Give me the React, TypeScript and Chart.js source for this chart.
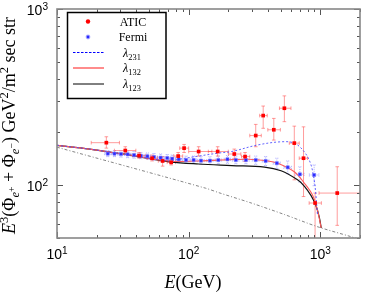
import { useEffect, useRef } from 'react';
import { Chart, registerables } from 'chart.js';
Chart.register(...registerables);

// ---------- data (GeV, E^3 flux) ----------
const ATIC_E = [23.7, 33, 42, 52.7, 63.4, 73.6, 83.2, 92.3, 119, 166, 222, 268, 323, 368, 443, 533, 634, 745, 912, 1343];
const ATIC_V = [174, 157, 147, 142, 137, 134.6, 146, 162, 155, 155, 150, 145, 191, 248, 206, 273, 173, 142, 79, 90];
const ATIC_E_LO = [18.2, 27.3, 37.5, 48.6, 58.8, 68.7, 77.1, 85.5, 100, 141, 200, 252, 291, 346, 399, 489, 581, 691, 822, 977];
const ATIC_E_HI = [29.8, 39.7, 47.2, 57.8, 68.7, 79.4, 90.1, 100, 150, 200, 249, 291, 356, 395, 497, 598, 691, 798, 1018, 2010];
const ATIC_V_LO = [162, 150, 142, 137, 128, 130, 140, 153, 146, 146, 141, 136, 165, 210, 180, 229, 107, 86, 40, 59];
const ATIC_V_HI = [188, 165, 153, 148, 145, 140, 153, 170, 165, 165, 160, 153, 221, 281, 239, 321, 216, 214, 90, 127];

const FERMI_E = [24.3, 27.3, 30.6, 34.4, 38.5, 43.3, 48.6, 54.5, 61.2, 68.7, 75, 84, 95.5, 109, 124, 145, 168, 197, 228, 272, 323, 384, 467, 565, 699, 897];
const FERMI_V = [150.7, 150.7, 150, 149.4, 148, 146.8, 145.6, 144.3, 143, 142.4, 141.2, 140, 138.7, 138.7, 137.5, 137.5, 138.6, 140, 138.6, 138.6, 138.6, 137, 133, 126, 115, 114];
const FERMI_E_LO = [23, 25.8, 29, 32.5, 36.4, 41, 46, 51.5, 58, 65, 71, 79.5, 90, 103, 117, 137, 159, 186, 215, 257, 304, 362, 438, 528, 650, 825];
const FERMI_E_HI = [25.7, 28.9, 32.4, 36.4, 40.8, 45.8, 51.4, 57.7, 64.8, 72.7, 79.4, 89, 101, 115, 131, 153, 178, 208, 241, 288, 342, 407, 497, 604, 752, 975];
const FERMI_V_LO = [145, 145, 144, 143, 142, 141, 140, 138, 137, 136, 135, 134, 133, 133, 131, 131, 132, 133, 132, 132, 131, 129, 124, 116, 104, 99];
const FERMI_V_HI = [157, 157, 156, 156, 155, 153, 152, 151, 150, 149, 148, 147, 146, 146, 145, 145, 146, 147, 146, 146, 146, 145, 142, 137, 127, 130];

const L231_E = [10, 17.7, 35.4, 72.4, 84, 119, 170, 212, 336, 503, 634, 752, 841, 897, 922, 950];
const L231_V = [168, 160, 148, 137, 140, 146, 152, 155, 169, 176, 173, 155, 133, 107, 90, 68];
const L132_E = [10, 17.7, 35.4, 72.4, 119, 283, 400, 475, 634, 752, 870, 950, 1015];
const L132_V = [168, 160, 148, 136.5, 137, 140, 137, 133, 119, 103, 88, 72, 57];
const L123_E = [10, 17.7, 35.4, 72.4, 119, 212, 377, 503, 671, 760, 850, 922, 980, 1015];
const L123_V = [168, 160, 148, 135.5, 131.6, 129, 126.5, 120.5, 107, 98, 87, 77, 66, 57];
const BG_E = [10, 134, 173, 299, 533, 948, 1690, 2000];
const BG_V = [164, 96, 90, 79, 68, 58, 51, 49];

const X_TICKS = [10, 100, 1000];
const X_TICK_EXP = ['1', '2', '3'];
const Y_TICKS = [100, 1000];
const Y_TICK_EXP = ['2', '3'];

const LEGEND_LABELS = ['ATIC', 'Fermi', '231', '132', '123'];

type Seg = { t: string; italic?: boolean; scale?: number; dy?: number };

function drawRich(ctx: CanvasRenderingContext2D, segs: Seg[], x: number, y: number, size: number, family: string, align: 'left' | 'center' | 'right') {
  const fontOf = (s: Seg) => `${s.italic ? 'italic ' : ''}${(size * (s.scale || 1)).toFixed(2)}px ${family}`;
  const widths = segs.map((s) => { ctx.font = fontOf(s); return ctx.measureText(s.t).width; });
  const total = widths.reduce((a, b) => a + b, 0);
  let cx = align === 'center' ? x - total / 2 : align === 'right' ? x - total : x;
  ctx.textAlign = 'left';
  ctx.textBaseline = 'alphabetic';
  segs.forEach((s, i) => {
    ctx.font = fontOf(s);
    ctx.fillText(s.t, cx, y + (s.dy || 0) * size);
    cx += widths[i];
  });
  return total;
}

const toPts = (xs: number[], ys: number[]) => xs.map((x, i) => ({ x, y: ys[i] }));

const SERIF = '"Liberation Serif", "Times New Roman", serif';
const SANS = '"Liberation Sans", Arial, sans-serif';

const framePlugin = {
  id: 'framePlugin',
  beforeDatasetsDraw(chart: any) {
    const ctx: CanvasRenderingContext2D = chart.ctx;
    const xs = chart.scales.x, ys = chart.scales.y;
    const a = chart.chartArea;
    ctx.save();
    ctx.beginPath();
    ctx.rect(a.left, a.top, a.right - a.left, a.bottom - a.top);
    ctx.clip();
    const bars = (E: number[], V: number[], elo: number[], ehi: number[], vlo: number[], vhi: number[], color: string, dash: number[], cap: number) => {
      ctx.strokeStyle = color;
      ctx.lineWidth = 1;
      ctx.setLineDash(dash);
      for (let i = 0; i < E.length; i++) {
        const x = xs.getPixelForValue(E[i]);
        const y = ys.getPixelForValue(V[i]);
        const x0 = xs.getPixelForValue(elo[i]);
        const x1 = xs.getPixelForValue(ehi[i]);
        const y0 = ys.getPixelForValue(vlo[i]);
        const y1 = ys.getPixelForValue(vhi[i]);
        ctx.beginPath();
        ctx.moveTo(x0, y); ctx.lineTo(x1, y);
        ctx.moveTo(x0, y - cap); ctx.lineTo(x0, y + cap);
        ctx.moveTo(x1, y - cap); ctx.lineTo(x1, y + cap);
        ctx.moveTo(x, y0); ctx.lineTo(x, y1);
        ctx.moveTo(x - cap, y0); ctx.lineTo(x + cap, y0);
        ctx.moveTo(x - cap, y1); ctx.lineTo(x + cap, y1);
        ctx.stroke();
      }
      ctx.setLineDash([]);
    };
    bars(FERMI_E, FERMI_V, FERMI_E_LO, FERMI_E_HI, FERMI_V_LO, FERMI_V_HI, 'rgba(110,110,255,0.55)', [1, 1], 1.5);
    bars(ATIC_E, ATIC_V, ATIC_E_LO, ATIC_E_HI, ATIC_V_LO, ATIC_V_HI, 'rgba(255,60,60,0.5)', [], 1.8);
    ctx.restore();
  },
  afterDraw(chart: any) {
    const ctx: CanvasRenderingContext2D = chart.ctx;
    const xs = chart.scales.x, ys = chart.scales.y;
    const a = chart.chartArea;
    ctx.save();
    // ticks
    ctx.strokeStyle = '#555';
    ctx.lineWidth = 1;
    ctx.beginPath();
    for (const d of [10, 100, 1000]) {
      for (let m = 1; m <= 9; m++) {
        const v = m * d;
        if (v < 10 || v > 2000) continue;
        const px = Math.round(xs.getPixelForValue(v)) + 0.5;
        const len = m === 1 ? 6 : 3;
        ctx.moveTo(px, a.bottom); ctx.lineTo(px, a.bottom - len);
        ctx.moveTo(px, a.top); ctx.lineTo(px, a.top + len);
      }
    }
    for (const d of [10, 100, 1000]) {
      for (let m = 1; m <= 9; m++) {
        const v = m * d;
        if (v < 50 || v > 1000) continue;
        const py = Math.round(ys.getPixelForValue(v)) + 0.5;
        const len = m === 1 ? 6 : 3;
        ctx.moveTo(a.left, py); ctx.lineTo(a.left + len, py);
        ctx.moveTo(a.right, py); ctx.lineTo(a.right - len, py);
      }
    }
    ctx.stroke();
    // frame
    ctx.strokeStyle = '#888';
    ctx.lineWidth = 1.6;
    ctx.strokeRect(a.left, a.top, a.right - a.left, a.bottom - a.top);

    // tick labels
    ctx.fillStyle = '#000';
    X_TICKS.forEach((v, i) => {
      drawRich(ctx, [{ t: '10' }, { t: X_TICK_EXP[i], scale: 0.72, dy: -0.38 }], xs.getPixelForValue(v), a.bottom + 21, 14, SANS, 'center');
    });
    Y_TICKS.forEach((v, i) => {
      drawRich(ctx, [{ t: '10' }, { t: Y_TICK_EXP[i], scale: 0.72, dy: -0.38 }], a.left - 9, ys.getPixelForValue(v) + 6, 14, SANS, 'right');
    });

    // x title
    drawRich(ctx, [{ t: 'E', italic: true }, { t: '(GeV)' }], 193, 288, 18, SERIF, 'center');

    // y title
    ctx.save();
    ctx.translate(15, 125.5);
    ctx.rotate(-Math.PI / 2);
    const ysegs: Seg[] = [
      { t: 'E', italic: true }, { t: '3', scale: 0.7, dy: -0.4 },
      { t: '(Φ' }, { t: 'e', italic: true, scale: 0.7, dy: 0.22 }, { t: '+', scale: 0.55, dy: -0.02 },
      { t: ' + Φ' }, { t: 'e', italic: true, scale: 0.7, dy: 0.22 }, { t: '−', scale: 0.55, dy: -0.02 },
      { t: ') GeV' }, { t: '2', scale: 0.7, dy: -0.4 }, { t: '/m' }, { t: '2', scale: 0.7, dy: -0.4 }, { t: ' sec str' },
    ];
    drawRich(ctx, ysegs, 0, 0, 18, SERIF, 'center');
    ctx.restore();

    // legend
    ctx.fillStyle = '#fff';
    ctx.fillRect(67.5, 12.5, 98.5, 86);
    ctx.strokeStyle = '#000';
    ctx.lineWidth = 1.5;
    ctx.strokeRect(67.5, 12.5, 98.5, 86);
    const rowsY = [21.5, 37, 52.5, 68, 84];
    // ATIC marker
    ctx.fillStyle = '#ff0000';
    ctx.beginPath(); ctx.arc(88, rowsY[0], 2.2, 0, Math.PI * 2); ctx.fill();
    // Fermi marker
    ctx.fillStyle = 'rgba(110,110,255,0.5)';
    ctx.beginPath(); ctx.arc(88, rowsY[1], 2.4, 0, Math.PI * 2); ctx.fill();
    ctx.fillStyle = '#2a2aff';
    ctx.beginPath(); ctx.arc(88, rowsY[1], 1.4, 0, Math.PI * 2); ctx.fill();
    // lines
    ctx.lineWidth = 1.2;
    ctx.strokeStyle = '#0000ff'; ctx.setLineDash([2.5, 1.5]);
    ctx.beginPath(); ctx.moveTo(73, rowsY[2]); ctx.lineTo(104, rowsY[2]); ctx.stroke();
    ctx.setLineDash([]);
    ctx.strokeStyle = '#ff7070'; ctx.lineWidth = 1.6;
    ctx.beginPath(); ctx.moveTo(73, rowsY[3]); ctx.lineTo(104, rowsY[3]); ctx.stroke();
    ctx.strokeStyle = '#000'; ctx.lineWidth = 1;
    ctx.beginPath(); ctx.moveTo(73, rowsY[4]); ctx.lineTo(104, rowsY[4]); ctx.stroke();
    ctx.fillStyle = '#000';
    drawRich(ctx, [{ t: LEGEND_LABELS[0] }], 133, rowsY[0] + 4, 12, SERIF, 'center');
    drawRich(ctx, [{ t: LEGEND_LABELS[1] }], 133, rowsY[1] + 4, 12, SERIF, 'center');
    for (let k = 2; k < 5; k++) {
      drawRich(ctx, [{ t: 'λ', italic: true }, { t: LEGEND_LABELS[k], scale: 0.7, dy: 0.25 }], 132, rowsY[k] + 4, 12, SERIF, 'center');
    }
    ctx.restore();
  },
};

export default function App() {
  const ref = useRef<HTMLCanvasElement>(null);
  useEffect(() => {
    if (!ref.current) return;
    const chart = new Chart(ref.current, {
      type: 'scatter',
      data: {
        datasets: [
          { label: 'ATIC', data: toPts(ATIC_E, ATIC_V), pointStyle: 'rect', pointRadius: 2.6, backgroundColor: '#ff0000', borderColor: '#ff0000', borderWidth: 0, showLine: false },
          { label: 'Fermi', data: toPts(FERMI_E, FERMI_V), pointStyle: 'rect', pointRadius: 2.2, backgroundColor: '#2a2aff', borderColor: 'rgba(120,120,255,0.6)', borderWidth: 1, showLine: false },
          { label: 'l231', data: toPts(L231_E, L231_V), showLine: true, pointRadius: 0, borderColor: 'rgba(70,70,255,0.85)', borderWidth: 1, borderDash: [2, 2], tension: 0.35, fill: false },
          { label: 'l132', data: toPts(L132_E, L132_V), showLine: true, pointRadius: 0, borderColor: '#ff5a5a', borderWidth: 1.1, tension: 0.35, fill: false },
          { label: 'l123', data: toPts(L123_E, L123_V), showLine: true, pointRadius: 0, borderColor: '#111', borderWidth: 1.2, tension: 0.35, fill: false },
          { label: 'bg', data: toPts(BG_E, BG_V), showLine: true, pointRadius: 0, borderColor: '#777', borderWidth: 0.9, borderDash: [3, 2, 1, 2], tension: 0.3, fill: false },
        ],
      },
      options: {
        responsive: false,
        animation: false,
        devicePixelRatio: 1,
        layout: { padding: { left: 57, right: 2, top: 9, bottom: 56 } },
        plugins: { legend: { display: false }, tooltip: { enabled: false }, title: { display: false } },
        scales: {
          x: { type: 'logarithmic', min: 10, max: 2000, display: false },
          y: { type: 'logarithmic', min: 50, max: 1000, display: false },
        },
      },
      plugins: [framePlugin],
    });
    return () => chart.destroy();
  }, []);
  return (
    <div style={{ position: 'fixed', left: 0, top: 0, width: 365, height: 294, background: '#fff' }}>
      <canvas ref={ref} width={365} height={294} style={{ display: 'block' }} />
    </div>
  );
}
